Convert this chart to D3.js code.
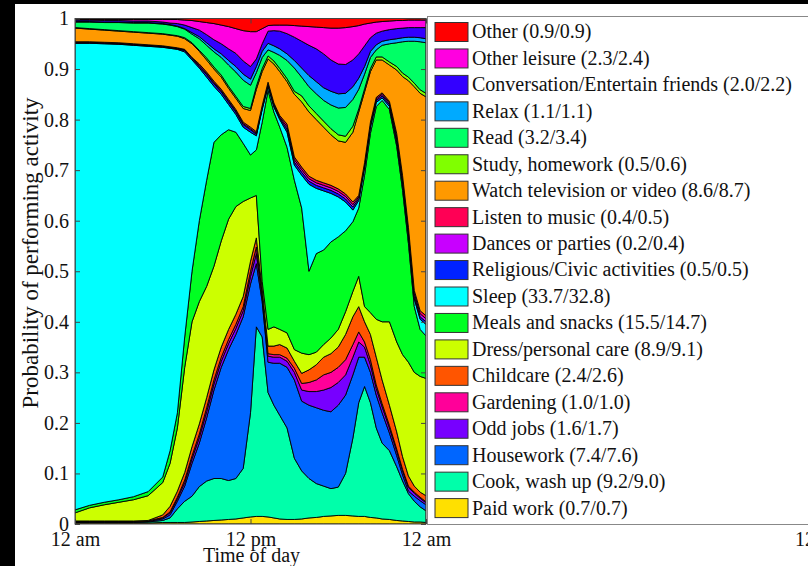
<!DOCTYPE html>
<html>
<head>
<meta charset="utf-8">
<style>
html, body { margin: 0; padding: 0; background: #000; }
svg { display: block; }
svg text { font-family: "Liberation Serif", "Times New Roman", Times, serif; font-size: 20px; fill: #111; }
</style>
</head>
<body>
<svg width="808" height="566"></svg>
<script src="https://d3js.org/d3.v7.min.js"></script>
<script>

// time of day in hours
var hours = [0,1,2,3,4,5,6,6.5,7,7.5,8,8.5,9,9.5,10,10.5,11,11.5,12,12.4,12.8,13.2,13.6,14,14.5,15,15.5,16,16.5,17,17.5,18,18.5,19,19.4,19.8,20.2,20.6,21,21.5,22,22.4,22.8,23.2,23.6,24];

// probability of each activity, bottom of the stack first
var paidWork     = [0.002,0.002,0.002,0.002,0.002,0.002,0.003,0.003,0.003,0.003,0.004,0.005,0.006,0.007,0.008,0.009,0.010,0.012,0.014,0.015,0.015,0.014,0.012,0.010,0.009,0.009,0.010,0.012,0.013,0.015,0.016,0.017,0.017,0.016,0.015,0.015,0.013,0.012,0.010,0.009,0.007,0.006,0.005,0.004,0.004,0.003];
var cookWashUp   = [0.001,0.001,0.001,0.001,0.001,0.002,0.004,0.009,0.027,0.042,0.051,0.069,0.079,0.083,0.082,0.077,0.080,0.098,0.206,0.375,0.355,0.246,0.223,0.205,0.181,0.121,0.095,0.078,0.067,0.060,0.054,0.056,0.083,0.154,0.225,0.257,0.227,0.178,0.150,0.136,0.106,0.079,0.055,0.041,0.030,0.023];
var housework    = [0.001,0.001,0.001,0.001,0.001,0.001,0.003,0.006,0.015,0.030,0.065,0.086,0.125,0.175,0.220,0.259,0.285,0.300,0.255,0.125,0.070,0.060,0.083,0.103,0.120,0.155,0.138,0.145,0.150,0.150,0.152,0.162,0.155,0.125,0.090,0.058,0.060,0.065,0.060,0.035,0.022,0.012,0.005,0.010,0.012,0.012];
var oddJobs      = [0.001,0.001,0.001,0.001,0.001,0.001,0.002,0.004,0.005,0.007,0.009,0.011,0.012,0.012,0.012,0.012,0.012,0.012,0.015,0.020,0.010,0.012,0.012,0.012,0.012,0.015,0.022,0.027,0.032,0.040,0.048,0.045,0.040,0.035,0.030,0.020,0.015,0.013,0.012,0.010,0.009,0.008,0.007,0.006,0.005,0.004];
var gardening    = [0,0,0,0,0,0,0.001,0.002,0.003,0.005,0.006,0.007,0.008,0.008,0.008,0.008,0.008,0.008,0.010,0.013,0.005,0.005,0.005,0.005,0.006,0.008,0.013,0.018,0.023,0.030,0.030,0.030,0.030,0.025,0.020,0.010,0.010,0.007,0.006,0.005,0.004,0.003,0.003,0.002,0.002,0.002];
var childcare    = [0.001,0.001,0.001,0.001,0.001,0.001,0.005,0.011,0.012,0.015,0.018,0.020,0.020,0.020,0.020,0.020,0.020,0.020,0.020,0.018,0.010,0.015,0.017,0.020,0.020,0.014,0.020,0.025,0.030,0.035,0.037,0.040,0.050,0.055,0.050,0.040,0.050,0.055,0.047,0.040,0.034,0.025,0.020,0.012,0.010,0.012];
var dressCare    = [0.016,0.026,0.032,0.037,0.042,0.049,0.064,0.085,0.125,0.208,0.247,0.242,0.220,0.205,0.210,0.218,0.213,0.188,0.125,0.084,0.015,0.033,0.038,0.030,0.030,0.023,0.040,0.030,0.025,0.025,0.031,0.035,0.045,0.050,0.060,0.030,0.043,0.075,0.115,0.165,0.178,0.202,0.225,0.225,0.229,0.232];
var meals        = [0.006,0.005,0.005,0.005,0.006,0.008,0.011,0.025,0.030,0.060,0.100,0.160,0.210,0.245,0.210,0.177,0.147,0.115,0.085,0.090,0.315,0.473,0.425,0.400,0.367,0.335,0.287,0.165,0.195,0.187,0.190,0.183,0.160,0.138,0.135,0.260,0.355,0.421,0.438,0.420,0.387,0.325,0.235,0.130,0.093,0.084];
var sleep        = [0.923,0.914,0.907,0.901,0.893,0.881,0.850,0.796,0.719,0.564,0.418,0.302,0.204,0.111,0.080,0.050,0.035,0.032,0.045,0.028,0.025,0.008,0.010,0.015,0.030,0.030,0.065,0.172,0.129,0.117,0.096,0.079,0.057,0.023,0.015,0.015,0.012,0.008,0.005,0.006,0.008,0.012,0.015,0.015,0.020,0.023];
var religious    = [0.001,0.001,0.001,0.001,0.001,0.001,0.001,0.001,0.001,0.003,0.003,0.003,0.005,0.005,0.005,0.005,0.005,0.005,0.005,0.003,0.003,0.003,0.003,0.003,0.006,0.006,0.006,0.006,0.006,0.006,0.006,0.006,0.006,0.006,0.004,0.004,0.004,0.004,0.004,0.004,0.005,0.005,0.005,0.005,0.005,0.005];
var dances       = [0.001,0.001,0.001,0.001,0.001,0.001,0.001,0.001,0.001,0.001,0.001,0.002,0.002,0.002,0.002,0.002,0.002,0.002,0.002,0.002,0.002,0.002,0.002,0.002,0.005,0.005,0.005,0.005,0.005,0.005,0.005,0.005,0.005,0.005,0.003,0.003,0.003,0.003,0.003,0.003,0.006,0.006,0.006,0.006,0.006,0.006];
var music        = [0.001,0.001,0.001,0.001,0.001,0.001,0.001,0.001,0.001,0.001,0.001,0.003,0.003,0.003,0.003,0.003,0.003,0.003,0.003,0.003,0.003,0.003,0.003,0.003,0.005,0.005,0.005,0.005,0.005,0.005,0.005,0.005,0.005,0.005,0.003,0.003,0.003,0.003,0.003,0.003,0.006,0.006,0.006,0.006,0.006,0.006];
var television   = [0.027,0.025,0.024,0.023,0.023,0.023,0.023,0.023,0.023,0.021,0.027,0.025,0.024,0.024,0.024,0.022,0.022,0.027,0.033,0.084,0.067,0.046,0.077,0.087,0.084,0.124,0.129,0.127,0.120,0.110,0.100,0.095,0.102,0.138,0.165,0.140,0.100,0.074,0.065,0.072,0.126,0.196,0.290,0.403,0.430,0.433];
var study        = [0.001,0.001,0.001,0.001,0.001,0.001,0.001,0.001,0.001,0.002,0.002,0.002,0.004,0.004,0.004,0.004,0.004,0.004,0.004,0.006,0.006,0.006,0.006,0.006,0.006,0.006,0.012,0.012,0.012,0.012,0.012,0.012,0.012,0.012,0.006,0.006,0.006,0.006,0.006,0.006,0.007,0.007,0.007,0.007,0.007,0.007];
var read         = [0.011,0.013,0.014,0.016,0.017,0.019,0.019,0.019,0.018,0.017,0.017,0.023,0.025,0.030,0.035,0.042,0.048,0.052,0.046,0.027,0.022,0.012,0.017,0.026,0.036,0.046,0.037,0.038,0.039,0.041,0.047,0.053,0.057,0.053,0.039,0.029,0.022,0.014,0.023,0.036,0.047,0.062,0.071,0.083,0.095,0.100];
var relax        = [0.001,0.001,0.001,0.001,0.001,0.001,0.001,0.001,0.001,0.001,0.003,0.004,0.005,0.006,0.007,0.009,0.011,0.012,0.012,0.012,0.012,0.013,0.013,0.013,0.013,0.015,0.018,0.022,0.024,0.025,0.027,0.028,0.028,0.025,0.022,0.015,0.012,0.010,0.008,0.008,0.008,0.008,0.008,0.008,0.008,0.008];
var conversation = [0.003,0.003,0.003,0.003,0.003,0.003,0.003,0.003,0.005,0.007,0.010,0.013,0.016,0.018,0.020,0.023,0.026,0.026,0.025,0.015,0.015,0.024,0.030,0.035,0.040,0.046,0.053,0.060,0.065,0.067,0.062,0.059,0.057,0.053,0.048,0.041,0.027,0.023,0.020,0.020,0.020,0.019,0.019,0.019,0.020,0.022];
var otherLeisure = [0.001,0.001,0.002,0.002,0.003,0.003,0.005,0.007,0.008,0.010,0.014,0.017,0.024,0.032,0.037,0.044,0.049,0.060,0.069,0.054,0.030,0.011,0.011,0.012,0.017,0.023,0.030,0.037,0.043,0.052,0.063,0.071,0.073,0.066,0.056,0.043,0.029,0.022,0.019,0.017,0.016,0.015,0.015,0.015,0.015,0.015];
var other        = [0.002,0.002,0.002,0.002,0.002,0.002,0.002,0.002,0.002,0.003,0.004,0.006,0.008,0.010,0.013,0.016,0.020,0.024,0.026,0.026,0.020,0.014,0.013,0.013,0.013,0.014,0.015,0.016,0.017,0.018,0.019,0.019,0.018,0.016,0.014,0.011,0.009,0.007,0.006,0.005,0.004,0.004,0.003,0.003,0.003,0.003];

var categories = ["Paid work", "Cook, wash up", "Housework", "Odd jobs", "Gardening", "Childcare",
  "Dress/personal care", "Meals and snacks", "Sleep", "Religious/Civic activities", "Dances or parties",
  "Listen to music", "Watch television or video", "Study, homework", "Read", "Relax",
  "Conversation/Entertain friends", "Other leisure", "Other"];
var hourShares = ["0.7/0.7", "9.2/9.0", "7.4/7.6", "1.6/1.7", "1.0/1.0", "2.4/2.6", "8.9/9.1", "15.5/14.7",
  "33.7/32.8", "0.5/0.5", "0.2/0.4", "0.4/0.5", "8.6/8.7", "0.5/0.6", "3.2/3.4", "1.1/1.1", "2.0/2.2",
  "2.3/2.4", "0.9/0.9"];
var series = [paidWork, cookWashUp, housework, oddJobs, gardening, childcare, dressCare, meals, sleep,
  religious, dances, music, television, study, read, relax, conversation, otherLeisure, other];

var colors = ["#ffe000", "#00ffaa", "#0066ff", "#7700ff", "#ff0099", "#ff5500", "#ccff00", "#00ff22",
  "#00ffff", "#0022ff", "#c800ff", "#ff0055", "#ff9900", "#80ff00", "#00ff66", "#00aaff", "#3300ff",
  "#ff00e0", "#ff0000"];

var xTickHours = [0, 12, 24];
var xTickLabels = ["12 am", "12 pm", "12 am"];
var yTicks = [0, 0.1, 0.2, 0.3, 0.4, 0.5, 0.6, 0.7, 0.8, 0.9, 1];

var svg = d3.select("svg"),
    width = +svg.attr("width"),
    height = +svg.attr("height");

var plot = {left: 75, right: 426, top: 18.5, bottom: 524};

var x = d3.scaleLinear().domain([0, 24]).range([plot.left, plot.right]);
var y = d3.scaleLinear().domain([0, 1]).range([plot.bottom, plot.top]);

// white figure on the black frame
svg.append("rect")
    .attr("x", 15).attr("y", 4)
    .attr("width", width - 15).attr("height", height - 4)
    .attr("fill", "#fff");

var rows = hours.map(function(h, i) {
  var row = {hour: h};
  categories.forEach(function(c, j) { row[c] = series[j][i]; });
  return row;
});

var layers = d3.stack().keys(categories)(rows);

var area = d3.area()
    .x(function(d) { return x(d.data.hour); })
    .y0(function(d) { return y(d[0]); })
    .y1(function(d) { return y(d[1]); });

svg.append("clipPath").attr("id", "plotclip")
  .append("rect")
    .attr("x", plot.left).attr("y", plot.top)
    .attr("width", plot.right - plot.left).attr("height", plot.bottom - plot.top);

svg.append("g")
    .attr("clip-path", "url(#plotclip)")
  .selectAll("path")
  .data(layers)
  .enter().append("path")
    .attr("fill", function(d, i) { return colors[i]; })
    .attr("stroke", "#000")
    .attr("stroke-width", 0.9)
    .attr("stroke-linejoin", "round")
    .attr("d", area);

// axes, ticks pointing inward
function styleAxis(g) {
  g.attr("font-family", null).attr("font-size", null);
  g.select(".domain").remove();
  g.selectAll(".tick line").attr("stroke", "#444");
}

svg.append("g")
    .attr("transform", "translate(" + plot.left + ",0)")
    .call(d3.axisLeft(y).tickValues(yTicks).tickSize(-5).tickPadding(6).tickFormat(d3.format("~g")))
    .call(styleAxis);

svg.append("g")
    .attr("transform", "translate(" + plot.right + ",0)")
    .call(d3.axisRight(y).tickValues(yTicks).tickSize(-5).tickFormat(""))
    .call(styleAxis);

svg.append("g")
    .attr("transform", "translate(0," + plot.bottom + ")")
    .call(d3.axisBottom(x).tickValues(xTickHours).tickSize(-5).tickPadding(8)
      .tickFormat(function(d, i) { return xTickLabels[i]; }))
    .call(styleAxis);

svg.append("g")
    .attr("transform", "translate(0," + plot.top + ")")
    .call(d3.axisTop(x).tickValues(xTickHours).tickSize(-5).tickFormat(""))
    .call(styleAxis);

svg.append("rect")
    .attr("x", plot.left).attr("y", plot.top)
    .attr("width", plot.right - plot.left).attr("height", plot.bottom - plot.top)
    .attr("fill", "none")
    .attr("stroke", "#444");

svg.append("text")
    .attr("transform", "translate(38,253) rotate(-90)")
    .attr("text-anchor", "middle")
    .style("font-size", "23px")
    .text("Probability of performing activity");

svg.append("text")
    .attr("x", (plot.left + plot.right) / 2 + 1).attr("y", 562)
    .attr("text-anchor", "middle")
    .text("Time of day");

// tick label of the next panel, cut by the window edge
svg.append("text")
    .attr("x", 795).attr("y", 546)
    .text("12 pm");

// legend, top entry is the top of the stack
var legend = svg.append("g");

legend.append("rect")
    .attr("x", 427.5).attr("y", 16.5)
    .attr("width", 420).attr("height", 508)
    .attr("fill", "#fff")
    .attr("stroke", "#888");

var legendOrder = d3.range(categories.length).reverse();

var item = legend.selectAll("g.item")
  .data(legendOrder)
  .enter().append("g")
    .attr("class", "item")
    .attr("transform", function(j, i) { return "translate(0," + (32 + i * 26.45) + ")"; });

item.append("rect")
    .attr("x", 435).attr("y", -9.5)
    .attr("width", 33).attr("height", 19)
    .attr("fill", function(j) { return colors[j]; })
    .attr("stroke", "#333");

item.append("text")
    .attr("x", 472).attr("dy", "0.32em")
    .text(function(j) { return categories[j] + " (" + hourShares[j] + ")"; });

</script>
</body>
</html>
